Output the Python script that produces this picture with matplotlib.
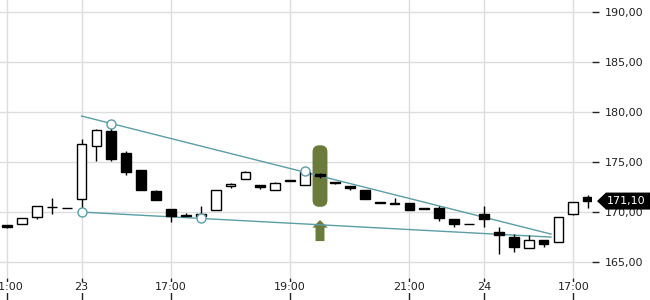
import matplotlib
matplotlib.use("Agg")
from matplotlib import pyplot as plt
from matplotlib.patches import FancyBboxPatch, Polygon
from matplotlib.transforms import blended_transform_factory
import numpy as np

# 15-minute candles, left to right
opens = [168.70, 168.80, 169.50, 170.55, 170.37, 171.30, 176.60, 178.10, 175.90, 174.20,
         172.10, 170.35, 169.60, 169.60, 170.20, 172.60, 173.30, 172.75, 172.20, 173.10,
         172.70, 173.80, 173.00, 172.65, 172.25, 170.90, 170.95, 170.95, 170.40, 170.45,
         169.35, 168.85, 169.85, 168.00, 167.55, 166.40, 167.25, 167.00, 169.85, 171.55]
highs = [168.70, 169.40, 170.60, 171.40, 170.37, 177.30, 178.30, 179.00, 176.10, 174.20,
         172.20, 170.35, 169.90, 170.60, 172.20, 172.95, 174.15, 172.75, 173.00, 173.25,
         174.10, 173.95, 173.00, 172.65, 172.25, 171.05, 171.45, 170.95, 170.45, 170.65,
         169.35, 168.85, 170.65, 168.50, 167.85, 167.70, 167.25, 169.55, 171.05, 171.70]
lows = [168.40, 168.80, 169.30, 169.80, 170.37, 170.05, 175.10, 175.10, 173.75, 172.25,
        171.25, 169.05, 169.60, 169.45, 170.20, 172.45, 173.30, 172.35, 172.20, 173.10,
        172.70, 173.45, 172.85, 172.25, 171.30, 170.90, 170.80, 170.20, 170.30, 169.15,
        168.50, 168.85, 168.50, 165.80, 166.00, 166.40, 166.55, 167.00, 169.75, 170.40]
closes = [168.55, 169.40, 170.60, 170.50, 170.37, 176.80, 178.20, 175.35, 174.05, 172.25,
          171.25, 169.65, 169.75, 169.85, 172.20, 172.80, 174.00, 172.50, 172.95, 173.25,
          174.00, 173.65, 172.95, 172.45, 171.30, 171.05, 170.80, 170.20, 170.30, 169.40,
          168.80, 168.85, 169.30, 167.75, 166.55, 167.25, 166.85, 169.55, 171.05, 171.10]

tick_pos = [0, 5, 11, 19, 27, 32, 38]
tick_labels = ["21:00", "23", "17:00", "19:00", "21:00", "24", "17:00"]
y_ticks = [165, 170, 175, 180, 185, 190]

# trend channel (start / end candle index and price)
upper_line = ([5, 36.5], [179.6, 167.8])
lower_line = ([5, 36.5], [170.0, 167.5])
touch_x = [5, 7, 13, 20]
touch_y = [170.05, 178.8, 169.45, 174.1]

signal_idx = 21
signal_range = (170.4, 176.8)
arrow_range = (167.1, 169.2)
last_price = 171.10

teal = "#5a9ea6"
olive = "#6b7b3b"

fig = plt.figure(figsize=(6.5, 3.0), dpi=100)
ax = fig.add_axes([0.0, 0.073, 0.911, 0.927])

x = np.arange(len(opens))
o = np.array(opens)
c = np.array(closes)
up = c >= o

ax.vlines(x, lows, highs, color="black", lw=1, zorder=4)
ax.bar(x, np.abs(c - o), bottom=np.minimum(o, c), width=0.66,
       color=np.where(up, "white", "black"), edgecolor="black", lw=1, zorder=5)

# signal highlight + arrow
pill = FancyBboxPatch((signal_idx - 0.35, signal_range[0] + 0.35), 0.7,
                      signal_range[1] - signal_range[0] - 0.7,
                      boxstyle="round,pad=0.15,rounding_size=0.45",
                      mutation_aspect=1.5, fc=olive, ec="none", zorder=2)
ax.add_patch(pill)
a0, a1 = arrow_range
ax.add_patch(Polygon([[signal_idx - 0.3, a0], [signal_idx + 0.3, a0],
                      [signal_idx + 0.3, a1 - 0.75], [signal_idx + 0.52, a1 - 0.75],
                      [signal_idx, a1], [signal_idx - 0.52, a1 - 0.75],
                      [signal_idx - 0.3, a1 - 0.75]], closed=True,
                     fc=olive, ec="none", zorder=2))

ax.plot(*upper_line, color=teal, lw=1, zorder=3)
ax.plot(*lower_line, color=teal, lw=1, zorder=3)
ax.plot(touch_x, touch_y, "o", ms=6.5, mfc="white", mec=teal, mew=1, zorder=6)

ax.set_xlim(-0.47, 39.26)
ax.set_ylim(163.4, 191.2)

ax.yaxis.tick_right()
ax.set_yticks(y_ticks)
ax.set_yticklabels(["{:.2f}".format(v).replace(".", ",") for v in y_ticks])
ax.tick_params(axis="y", length=5, width=1, pad=4, labelsize=8,
               colors="#222222")
ax.set_xticks(tick_pos)
ax.set_xticklabels(tick_labels)
ax.tick_params(axis="x", length=18, width=1, pad=-15, labelsize=8,
               colors="#222222")
for lbl in ax.get_xticklabels():
    lbl.set_bbox(dict(fc="white", ec="none", pad=0.5))

ax.grid(True, color="#dddddd", lw=1, zorder=0)
ax.set_axisbelow(True)
for s in ax.spines.values():
    s.set_visible(False)

# last price tag on the right axis
tr = blended_transform_factory(fig.transFigure, ax.transData)
h = 0.85
tag = Polygon([[597 / 650, last_price], [606 / 650, last_price + h],
               [1.0, last_price + h], [1.0, last_price - h],
               [606 / 650, last_price - h]], closed=True, fc="black",
              ec="none", transform=tr, clip_on=False, zorder=10)
fig.add_artist(tag)
fig.text(626 / 650, last_price, "{:.2f}".format(last_price).replace(".", ","),
         transform=tr, color="white", fontsize=8, ha="center", va="center",
         zorder=11)

fig.savefig("out.png", dpi=100)
